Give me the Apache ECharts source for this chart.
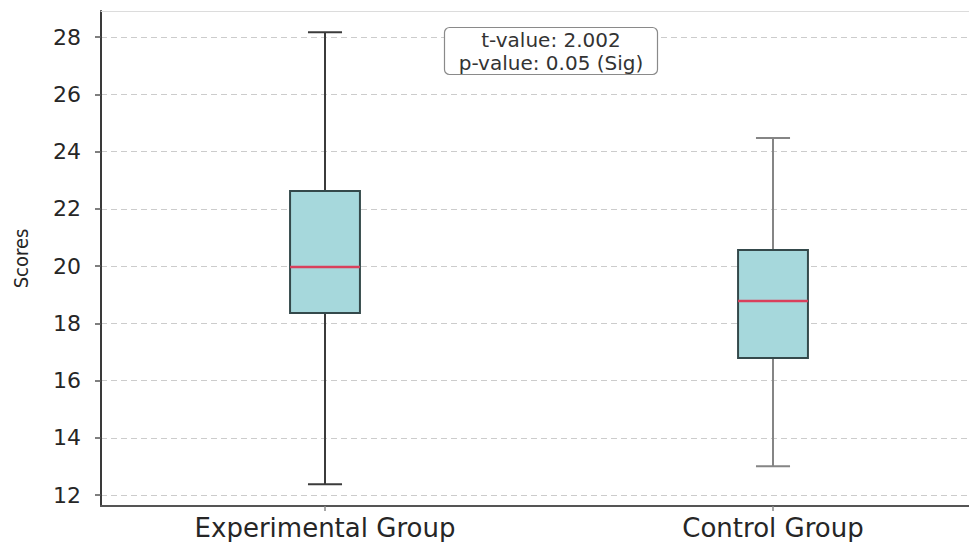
<!DOCTYPE html>
<html>
<head>
<meta charset="utf-8">
<style>
  html, body { margin: 0; padding: 0; background: #ffffff; }
  #chart { width: 969px; height: 542px; }
</style>
<script src="https://cdn.jsdelivr.net/npm/echarts@6/dist/echarts.min.js"></script>
</head>
<body>
<div id="chart"></div>
<script>
// Five-number summaries for each group
const categories    = ['Experimental Group', 'Control Group'];
const lowerWhisker  = [12.38, 13.01];
const q1Values      = [18.36, 16.79];
const medianValues  = [19.97, 18.78];
const q3Values      = [22.62, 20.56];
const upperWhisker  = [28.17, 24.47];
const yTickValues   = [12, 14, 16, 18, 20, 22, 24, 26, 28];
const groupPositions = [0, 1];
const statsText     = ['t-value: 2.002', 'p-value: 0.05 (Sig)'];

const whiskerColors = ['#3b3b3b', '#858585'];

const seriesData = categories.map((c, i) => [
  groupPositions[i], lowerWhisker[i], q1Values[i], medianValues[i], q3Values[i], upperWhisker[i]
]);

const chart = echarts.init(document.getElementById('chart'), null, { renderer: 'svg' });

// Box, whiskers, caps and median for one group, placed through the axes
function renderBox(params, api) {
  const pos = api.value(0);
  const unit = api.size([1, 0])[0];
  const boxHalf = unit * 0.078;
  const capHalf = unit * 0.038;
  const pLow = api.coord([pos, api.value(1)]);
  const pQ1 = api.coord([pos, api.value(2)]);
  const pMed = api.coord([pos, api.value(3)]);
  const pQ3 = api.coord([pos, api.value(4)]);
  const pHigh = api.coord([pos, api.value(5)]);
  const cx = pMed[0];
  const wc = whiskerColors[params.dataIndex];
  const lineStyle = { stroke: wc, lineWidth: 2, fill: null };
  return {
    type: 'group',
    children: [
      { type: 'line', shape: { x1: cx, y1: pQ3[1], x2: cx, y2: pHigh[1] }, style: lineStyle },
      { type: 'line', shape: { x1: cx, y1: pQ1[1], x2: cx, y2: pLow[1] }, style: lineStyle },
      { type: 'line', shape: { x1: cx - capHalf, y1: pHigh[1], x2: cx + capHalf, y2: pHigh[1] }, style: lineStyle },
      { type: 'line', shape: { x1: cx - capHalf, y1: pLow[1], x2: cx + capHalf, y2: pLow[1] }, style: lineStyle },
      {
        type: 'rect',
        shape: { x: cx - boxHalf, y: pQ3[1], width: boxHalf * 2, height: pQ1[1] - pQ3[1] },
        style: { fill: '#a6d8dc', stroke: '#34494b', lineWidth: 2 }
      },
      {
        type: 'line',
        shape: { x1: cx - boxHalf, y1: pMed[1], x2: cx + boxHalf, y2: pMed[1] },
        style: { stroke: '#d9405c', lineWidth: 2.5 }
      }
    ]
  };
}

const option = {
  backgroundColor: '#ffffff',
  animation: false,
  title: {
    text: statsText.join('\n'),
    left: 537,
    top: 27,
    textAlign: 'center',
    borderColor: '#8a8a8a',
    borderWidth: 1.2,
    borderRadius: 5,
    padding: [1, 14, 1, 14],
    backgroundColor: '#ffffff',
    textStyle: {
      fontFamily: 'DejaVu Sans',
      fontSize: 20,
      fontWeight: 'normal',
      lineHeight: 23,
      color: '#333333'
    }
  },
  grid: {
    left: 101,
    top: 11,
    right: 0,
    bottom: 36,
    show: false
  },
  xAxis: [{
    type: 'value',
    min: -0.5,
    max: 1.4375,
    axisLine: { show: true, onZero: false, lineStyle: { color: '#555555', width: 2 } },
    axisTick: { show: true, customValues: groupPositions, length: 5, lineStyle: { color: '#888888', width: 1.5 } },
    axisLabel: {
      customValues: groupPositions,
      formatter: (v) => categories[Math.round(v)],
      fontFamily: 'DejaVu Sans',
      fontSize: 26,
      color: '#262626',
      margin: 9
    },
    splitLine: { show: false }
  }, {
    type: 'value',
    position: 'top',
    min: -0.5,
    max: 1.4375,
    axisLine: { show: true, onZero: false, lineStyle: { color: '#dcdcdc', width: 1 } },
    axisTick: { show: false },
    axisLabel: { show: false },
    splitLine: { show: false }
  }],
  yAxis: {
    type: 'value',
    name: 'Scores',
    nameLocation: 'middle',
    nameGap: 70,
    nameRotate: 90,
    nameTextStyle: {
      fontFamily: 'DejaVu Sans Condensed',
      fontSize: 20,
      color: '#262626'
    },
    min: 11.62,
    max: 28.91,
    axisLine: { show: true, onZero: false, lineStyle: { color: '#3a3a3a', width: 2 } },
    axisTick: {
      show: true,
      length: 6,
      customValues: yTickValues,
      lineStyle: { color: '#555555', width: 1.5 }
    },
    axisLabel: {
      customValues: yTickValues,
      fontFamily: 'DejaVu Sans',
      fontSize: 22,
      color: '#262626',
      margin: 20
    },
    splitLine: {
      show: true,
      lineStyle: { color: '#cccccc', width: 1, type: [6, 4] }
    }
  },
  series: [{
    type: 'custom',
    renderItem: renderBox,
    xAxisIndex: 0,
    encode: { x: 0, y: [1, 2, 3, 4, 5] },
    data: seriesData,
    z: 3
  }]
};

chart.setOption(option);
</script>
</body>
</html>
